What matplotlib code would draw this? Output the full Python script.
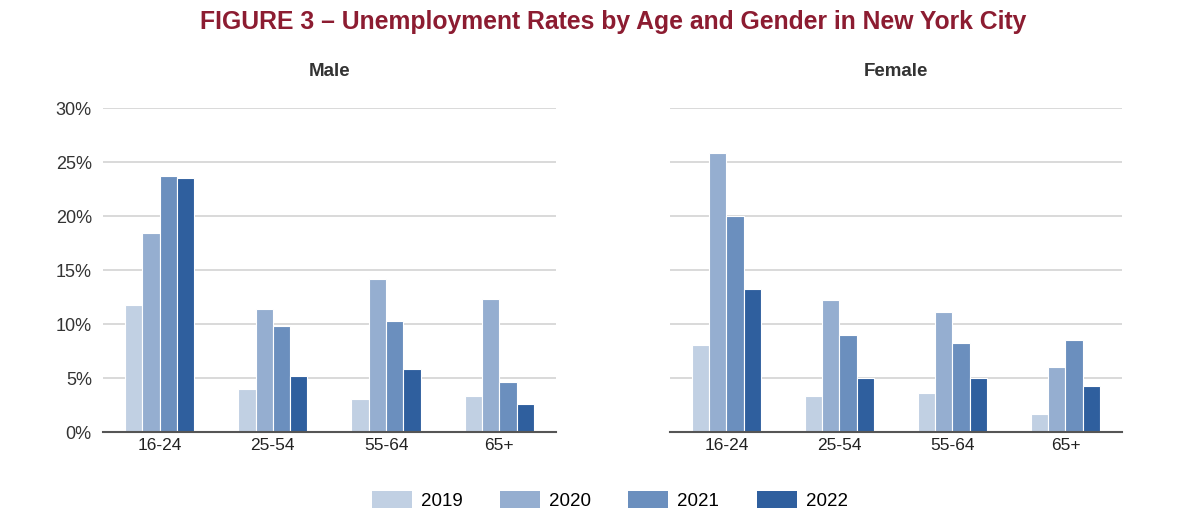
import matplotlib
matplotlib.use("Agg")
import matplotlib.pyplot as plt
import numpy as np
from matplotlib.patches import Patch

plt.rcParams['font.family'] = ['Liberation Sans', 'DejaVu Sans']

categories = ["16-24", "25-54", "55-64", "65+"]
years = ["2019", "2020", "2021", "2022"]
male = {
    "2019": [11.8, 4.0, 3.1, 3.3],
    "2020": [18.4, 11.4, 14.2, 12.3],
    "2021": [23.7, 9.8, 10.3, 4.6],
    "2022": [23.5, 5.2, 5.8, 2.6],
}
female = {
    "2019": [8.1, 3.3, 3.6, 1.7],
    "2020": [25.8, 12.2, 11.1, 6.0],
    "2021": [20.0, 9.0, 8.2, 8.5],
    "2022": [13.2, 5.0, 5.0, 4.3],
}
yticks = [0, 5, 10, 15, 20, 25, 30]
colors = ["#c1d0e3", "#95aed0", "#6b8fbe", "#2f5f9e"]

fig = plt.figure(figsize=(12, 5.3), dpi=100)
ax_m = fig.add_axes([0.0858, 0.1849, 0.3775, 0.6113])
ax_f = fig.add_axes([0.5583, 0.1849, 0.3767, 0.6113])

x = np.arange(len(categories))
bw = 0.153
for ax, data, title, show_y in [(ax_m, male, "Male", True), (ax_f, female, "Female", False)]:
    for i, yr in enumerate(years):
        ax.bar(x + (i - 1.5) * bw, data[yr], width=bw, color=colors[i],
               edgecolor="white", linewidth=0.8, zorder=3)
    ax.set_ylim(0, 30)
    ax.set_xlim(-0.5, len(categories) - 0.5)
    ax.set_yticks(yticks)
    ax.yaxis.grid(True, color="#d3d3d3", linewidth=1.2, zorder=0)
    ax.set_axisbelow(True)
    for s in ["top", "right", "left"]:
        ax.spines[s].set_visible(False)
    ax.spines["bottom"].set_color("#555555")
    ax.spines["bottom"].set_linewidth(1.5)
    ax.spines["bottom"].set_zorder(4)
    ax.set_xticks(x)
    ax.set_xticklabels(categories, fontsize=12.5, color="#222222")
    ax.tick_params(axis="x", length=0, pad=4)
    ax.tick_params(axis="y", length=0, pad=8)
    if show_y:
        ax.set_yticklabels([f"{t}%" for t in yticks], fontsize=13, color="#333333")
    else:
        ax.set_yticklabels([])
    pos = ax.get_position()
    fig.text((pos.x0 + pos.x1) / 2, 1 - 72 / 530, title, ha="center", va="center",
             fontsize=13.5, fontweight="bold", color="#333333")

fig.text(0.511, 0.958, "FIGURE 3 \u2013 Unemployment Rates by Age and Gender in New York City",
         ha="center", va="center", fontsize=17.8, fontweight="bold", color="#8c1c31")

handles = [Patch(facecolor=c, edgecolor="none") for c in colors]
fig.legend(handles, years, loc="center", bbox_to_anchor=(0.508, 0.056), ncol=4,
           frameon=False, fontsize=13.5, handlelength=2.13, handleheight=1.07,
           handletextpad=0.48, columnspacing=2.0)

fig.savefig("out.png", dpi=100)
